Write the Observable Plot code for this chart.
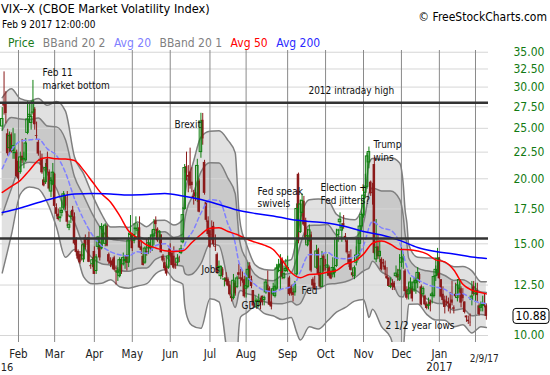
<!DOCTYPE html>
<html><head><meta charset="utf-8">
<script src="https://cdn.jsdelivr.net/npm/d3@7"></script>
<script src="https://cdn.jsdelivr.net/npm/@observablehq/plot@0.6"></script>
<style>
html,body{margin:0;padding:0;background:#fff;}
#wrap{position:relative;width:550px;height:375px;overflow:hidden;font-family:"DejaVu Sans Condensed","DejaVu Sans",sans-serif;font-stretch:condensed;}
#wrap svg{position:absolute;left:0;top:0;}
.t{position:absolute;white-space:nowrap;line-height:1;}
</style></head><body><div id="wrap"></div>
<script>
// ---- data: trading days ----
const dates = [
"2016-01-19","2016-01-20","2016-01-21","2016-01-22","2016-01-25","2016-01-26","2016-01-27","2016-01-28","2016-01-29",
"2016-02-01","2016-02-02","2016-02-03","2016-02-04","2016-02-05","2016-02-08","2016-02-09","2016-02-10","2016-02-11","2016-02-12","2016-02-16","2016-02-17","2016-02-18","2016-02-19","2016-02-22","2016-02-23","2016-02-24","2016-02-25","2016-02-26","2016-02-29",
"2016-03-01","2016-03-02","2016-03-03","2016-03-04","2016-03-07","2016-03-08","2016-03-09","2016-03-10","2016-03-11","2016-03-14","2016-03-15","2016-03-16","2016-03-17","2016-03-18","2016-03-21","2016-03-22","2016-03-23","2016-03-24","2016-03-28","2016-03-29","2016-03-30","2016-03-31",
"2016-04-01","2016-04-04","2016-04-05","2016-04-06","2016-04-07","2016-04-08","2016-04-11","2016-04-12","2016-04-13","2016-04-14","2016-04-15","2016-04-18","2016-04-19","2016-04-20","2016-04-21","2016-04-22","2016-04-25","2016-04-26","2016-04-27","2016-04-28","2016-04-29",
"2016-05-02","2016-05-03","2016-05-04","2016-05-05","2016-05-06","2016-05-09","2016-05-10","2016-05-11","2016-05-12","2016-05-13","2016-05-16","2016-05-17","2016-05-18","2016-05-19","2016-05-20","2016-05-23","2016-05-24","2016-05-25","2016-05-26","2016-05-27","2016-05-31",
"2016-06-01","2016-06-02","2016-06-03","2016-06-06","2016-06-07","2016-06-08","2016-06-09","2016-06-10","2016-06-13","2016-06-14","2016-06-15","2016-06-16","2016-06-17","2016-06-20","2016-06-21","2016-06-22","2016-06-23","2016-06-24","2016-06-27","2016-06-28","2016-06-29","2016-06-30",
"2016-07-01","2016-07-05","2016-07-06","2016-07-07","2016-07-08","2016-07-11","2016-07-12","2016-07-13","2016-07-14","2016-07-15","2016-07-18","2016-07-19","2016-07-20","2016-07-21","2016-07-22","2016-07-25","2016-07-26","2016-07-27","2016-07-28","2016-07-29",
"2016-08-01","2016-08-02","2016-08-03","2016-08-04","2016-08-05","2016-08-08","2016-08-09","2016-08-10","2016-08-11","2016-08-12","2016-08-15","2016-08-16","2016-08-17","2016-08-18","2016-08-19","2016-08-22","2016-08-23","2016-08-24","2016-08-25","2016-08-26","2016-08-29","2016-08-30","2016-08-31",
"2016-09-01","2016-09-02","2016-09-06","2016-09-07","2016-09-08","2016-09-09","2016-09-12","2016-09-13","2016-09-14","2016-09-15","2016-09-16","2016-09-19","2016-09-20","2016-09-21","2016-09-22","2016-09-23","2016-09-26","2016-09-27","2016-09-28","2016-09-29","2016-09-30",
"2016-10-03","2016-10-04","2016-10-05","2016-10-06","2016-10-07","2016-10-10","2016-10-11","2016-10-12","2016-10-13","2016-10-14","2016-10-17","2016-10-18","2016-10-19","2016-10-20","2016-10-21","2016-10-24","2016-10-25","2016-10-26","2016-10-27","2016-10-28","2016-10-31",
"2016-11-01","2016-11-02","2016-11-03","2016-11-04","2016-11-07","2016-11-08","2016-11-09","2016-11-10","2016-11-11","2016-11-14","2016-11-15","2016-11-16","2016-11-17","2016-11-18","2016-11-21","2016-11-22","2016-11-23","2016-11-25","2016-11-28","2016-11-29","2016-11-30",
"2016-12-01","2016-12-02","2016-12-05","2016-12-06","2016-12-07","2016-12-08","2016-12-09","2016-12-12","2016-12-13","2016-12-14","2016-12-15","2016-12-16","2016-12-19","2016-12-20","2016-12-21","2016-12-22","2016-12-23","2016-12-27","2016-12-28","2016-12-29","2016-12-30",
"2017-01-03","2017-01-04","2017-01-05","2017-01-06","2017-01-09","2017-01-10","2017-01-11","2017-01-12","2017-01-13","2017-01-17","2017-01-18","2017-01-19","2017-01-20","2017-01-23","2017-01-24","2017-01-25","2017-01-26","2017-01-27","2017-01-30","2017-01-31",
"2017-02-01","2017-02-02","2017-02-03","2017-02-06","2017-02-07","2017-02-08","2017-02-09"];

const open = [
25.20,27.80,27.80,24.40,22.90,24.30,22.60,22.40,22.50,21.60,
20.60,22.10,21.80,21.70,24.50,26.30,25.60,26.80,27.20,24.20,
23.50,21.80,21.90,19.90,19.70,21.80,20.60,18.90,19.50,20.40,
17.60,17.10,16.80,17.20,17.60,18.40,17.30,16.10,16.90,17.40,
16.90,15.30,14.50,14.30,14.30,14.00,15.40,15.30,15.40,13.60,
13.70,14.50,13.30,14.80,15.10,14.70,15.70,15.00,16.20,14.30,
13.90,13.90,14.10,13.30,13.20,13.00,14.00,13.70,13.90,14.20,
13.80,15.60,15.60,15.20,16.00,15.90,16.10,14.80,14.20,13.80,
14.50,14.70,14.90,14.70,15.50,16.60,16.00,15.30,15.60,14.20,
13.80,13.60,13.50,14.70,14.40,14.20,13.70,13.80,14.10,14.40,
15.10,17.50,21.10,20.30,20.60,19.70,18.50,18.80,18.30,19.80,
22.50,25.90,21.50,18.00,16.60,15.90,15.60,16.20,14.80,14.30,
13.50,13.00,13.40,12.80,12.90,12.80,12.50,11.90,11.80,12.60,
12.40,13.20,12.90,12.90,12.80,12.30,12.40,13.60,12.80,12.20,
11.50,11.60,11.60,11.70,11.90,11.70,12.10,12.50,12.30,11.60,
12.00,11.90,12.30,13.50,13.30,14.00,12.90,13.30,13.40,12.90,
12.40,12.10,12.10,13.10,20.40,15.80,17.20,18.10,16.60,14.90,
15.20,15.60,12.80,12.60,13.50,14.60,13.20,12.40,14.20,13.60,
13.50,13.50,13.20,13.10,13.20,13.60,15.60,16.50,15.90,16.40,
15.50,15.20,14.30,14.00,13.20,13.00,13.80,14.20,15.00,16.20,
17.00,18.80,19.30,21.50,19.70,18.80,21.30,14.00,14.80,14.20,
14.00,13.80,13.60,13.00,12.90,12.40,12.60,12.60,13.00,13.10,
12.80,13.80,14.00,13.30,12.20,12.00,12.30,12.30,12.20,12.60,
12.70,13.10,12.40,12.00,11.90,11.50,11.40,11.60,11.90,11.90,
13.00,13.20,14.10,12.80,12.00,11.70,11.60,11.60,11.50,11.70,
11.30,12.00,11.80,12.30,12.30,12.00,11.60,10.90,10.70,10.60,
11.70,12.40,12.00,12.20,11.40,11.30,11.40,11.50,11.40];

const high = [
27.40,32.09,29.40,24.90,24.60,24.50,25.00,24.40,22.70,21.80,
22.50,23.80,22.50,23.90,28.10,28.00,26.80,30.90,27.40,25.70,
23.70,22.60,22.30,20.10,21.40,22.50,20.80,20.10,21.40,20.50,
17.90,17.50,17.60,18.20,18.90,18.50,18.90,16.60,17.30,17.70,
17.20,15.40,14.60,14.50,14.90,15.00,15.60,15.40,15.80,13.70,
14.10,14.80,14.30,15.50,15.20,16.40,16.00,16.40,16.30,14.40,
14.10,14.00,14.20,13.60,13.50,14.10,14.00,14.40,14.20,14.30,
15.70,17.00,15.70,16.40,16.90,16.40,16.90,15.20,14.30,14.80,
15.30,15.40,15.10,15.90,16.70,16.90,16.10,15.90,15.60,14.30,
14.10,13.70,14.60,15.00,14.50,14.80,13.80,14.30,14.20,14.90,
17.60,21.30,22.50,21.20,22.90,21.00,19.00,19.20,21.80,20.00,
26.72,26.70,21.70,18.10,16.90,16.00,16.60,16.50,15.60,14.40,
13.90,13.60,13.50,12.90,13.20,12.90,12.70,12.00,13.10,12.70,
13.00,13.70,13.40,13.30,13.00,12.90,13.80,13.80,13.00,12.20,
11.90,11.80,12.00,11.80,11.90,11.90,12.80,13.30,12.40,12.20,
12.60,12.50,13.70,14.00,14.30,14.10,13.60,14.00,14.20,13.00,
12.50,12.30,12.70,17.90,20.51,18.20,18.70,18.50,16.80,16.00,
16.30,15.80,12.90,13.00,14.90,14.70,13.60,14.50,14.30,14.00,
14.30,13.60,13.30,14.10,13.60,16.00,16.00,17.20,16.40,17.00,
15.70,15.30,14.50,14.60,13.40,13.60,14.80,15.40,16.90,17.20,
19.30,20.40,22.40,23.01,19.80,19.60,22.00,16.70,15.60,15.20,
14.10,14.00,13.90,13.50,12.90,12.90,12.80,12.70,13.60,13.40,
14.30,14.80,14.40,13.40,12.40,12.60,12.90,12.40,12.90,12.90,
13.50,13.20,12.50,12.40,11.95,11.60,11.80,11.70,12.10,13.00,
13.60,14.70,14.10,12.80,12.40,11.90,11.90,11.80,12.10,12.70,
11.40,12.60,12.50,12.80,12.40,12.30,11.60,10.90,10.90,11.00,
12.70,12.70,12.60,12.60,11.50,11.60,11.90,12.00,11.50];

const low = [
24.70,26.50,25.50,22.10,22.30,22.40,21.80,21.80,20.10,19.80,
20.40,21.40,20.90,21.50,24.30,25.60,24.80,26.50,24.80,23.70,
22.10,21.20,20.40,19.30,19.50,20.50,19.00,18.40,19.40,17.60,
16.90,16.60,16.50,16.90,17.40,17.40,16.20,15.90,16.40,16.60,
14.90,14.20,13.90,13.70,13.90,13.80,14.60,14.90,13.80,13.40,
13.50,13.10,13.10,14.60,13.90,14.60,15.20,14.80,14.80,13.70,
13.50,13.40,13.30,12.50,12.70,12.90,13.10,13.60,13.40,13.30,
13.50,15.40,14.50,15.00,15.60,15.40,14.70,14.30,13.60,13.70,
14.20,14.30,14.40,14.50,14.90,15.80,15.10,15.00,14.40,13.80,
13.30,13.00,13.40,14.10,13.60,13.40,13.40,13.60,13.80,14.30,
15.00,17.40,19.80,18.80,19.10,18.80,17.80,18.10,18.00,17.20,
21.90,23.20,18.60,16.50,15.50,14.70,15.20,14.80,14.50,13.10,
13.30,12.80,12.90,12.40,12.50,12.40,11.90,11.60,11.70,11.90,
12.30,12.80,12.40,12.60,11.80,11.80,12.30,12.70,12.30,11.30,
11.30,11.30,11.30,11.20,11.40,11.40,12.00,12.10,11.40,11.20,
11.90,11.80,12.20,13.20,12.20,12.80,12.80,13.20,13.20,11.90,
11.90,11.60,11.90,13.00,15.00,15.70,16.90,16.20,15.00,14.80,
15.10,13.20,12.30,12.20,13.40,13.00,12.30,12.40,13.20,13.30,
13.00,12.90,12.80,12.90,12.90,13.50,15.10,16.10,15.10,16.00,
15.10,14.30,13.50,13.30,12.90,12.80,13.60,13.90,14.20,15.90,
16.80,18.30,19.10,20.90,18.50,17.80,14.30,13.80,14.00,13.80,
13.30,13.50,13.00,12.80,12.40,12.30,12.20,12.20,12.90,12.70,
12.70,13.50,13.40,12.10,11.70,11.70,12.00,11.60,12.10,12.00,
12.30,12.60,11.40,11.80,11.40,11.20,11.20,11.10,11.50,11.80,
12.70,13.00,12.80,11.80,11.50,11.00,11.40,11.10,11.00,11.40,
11.00,11.80,11.60,12.10,11.30,11.60,11.00,10.60,10.50,10.40,
11.40,11.90,11.60,11.60,10.90,11.10,11.10,11.30,10.70];

const close = [
26.05,27.59,26.69,22.34,24.15,22.50,23.11,22.42,20.20,19.98,
21.98,21.65,21.84,23.38,26.00,26.54,26.29,28.14,25.40,24.11,
22.31,21.64,20.53,19.38,20.98,20.72,19.11,19.81,20.55,17.70,
17.09,16.70,16.86,17.35,18.67,17.72,16.50,16.29,16.92,16.84,
14.99,14.44,14.02,13.79,14.17,14.94,14.74,15.24,13.82,13.56,
13.95,13.10,14.12,15.42,14.09,16.16,15.36,16.26,14.85,13.84,
13.72,13.62,13.35,13.24,13.28,13.95,13.22,14.08,13.96,13.77,
15.22,15.70,14.68,15.60,16.05,15.91,14.72,14.57,13.63,14.69,
14.41,15.04,14.68,15.57,15.95,16.33,15.20,15.82,14.42,13.90,
13.43,13.12,14.19,14.20,13.63,13.47,13.65,14.05,14.08,14.64,
17.03,20.97,20.50,20.14,19.37,19.41,18.37,18.48,21.17,17.25,
25.76,23.85,18.75,16.64,15.63,14.77,15.58,14.96,14.76,13.20,
13.54,13.55,13.04,12.82,12.67,12.44,11.97,11.77,12.74,12.02,
12.87,13.05,12.83,12.72,11.87,12.44,13.37,12.86,12.42,11.39,
11.50,11.66,11.66,11.68,11.55,11.81,12.64,12.19,11.43,11.34,
12.27,12.38,13.45,13.63,13.65,12.94,13.12,13.42,13.48,11.98,
12.02,11.94,12.51,17.50,15.16,17.85,18.14,16.30,15.37,15.53,
15.92,13.30,12.45,12.29,14.50,13.10,12.39,14.02,13.29,13.57,
13.63,12.99,12.84,13.48,13.38,15.36,15.91,16.69,16.12,16.21,
15.28,14.41,13.75,13.34,13.02,13.46,14.24,15.36,16.19,17.06,
18.56,19.32,22.08,22.51,18.71,18.74,14.38,14.74,14.17,14.48,
13.37,13.72,13.35,12.85,12.42,12.41,12.43,12.34,13.15,12.90,
13.33,14.07,14.12,12.14,11.79,12.22,12.64,11.75,12.64,12.72,
13.19,12.79,11.44,12.29,11.45,11.27,11.43,11.44,11.99,12.95,
13.37,14.04,12.85,11.85,11.67,11.32,11.56,11.49,11.26,11.54,
11.23,11.87,12.48,12.78,11.54,11.77,11.07,10.81,10.63,10.58,
11.88,11.99,12.14,11.93,10.97,11.37,11.45,11.45,10.88];

// ---- indicator readings (by trading-day index) ----
const bandIdx  = [0,5,10,15,20,25,30,35,40,45,50,55,60,65,70,75,80,85,90,95,100,101,102,103,105,110,115,120,125,129,130,131,132,135,140,145,150,155,160,163,165,170,175,180,185,190,195,200,202,203,205,210,215,220,222,223,224,225,230,235,240,245,250,255,260,265,268];
const bbUpper2 = [28.63,29.77,28.50,28.22,28.53,27.67,28.16,26.97,22.02,20.46,18.58,17.11,16.16,16.17,16.13,16.52,16.18,16.63,16.65,16.30,16.70,18.38,19.45,20.18,21.06,24.04,24.69,24.72,23.70,22.42,19.94,17.34,16.22,15.04,13.67,13.39,13.35,13.85,13.99,15.38,16.68,18.23,18.29,18.22,17.09,16.76,16.68,18.04,20.16,21.39,21.87,21.80,21.95,21.45,19.51,17.45,16.47,14.96,14.13,14.09,14.07,13.82,13.55,13.57,13.31,12.69,12.68];
const bbUpper1 = [24.77,26.22,26.05,25.98,26.18,25.25,25.16,23.76,20.17,18.59,17.08,15.98,15.32,15.23,15.18,15.50,15.28,15.76,15.83,15.42,15.66,16.65,17.33,17.81,18.41,20.61,21.46,21.44,20.03,18.72,17.16,15.59,14.88,14.04,13.09,12.80,12.74,13.07,13.20,14.07,14.96,16.27,16.29,16.33,15.59,15.40,15.42,16.46,17.91,18.75,19.21,18.95,18.94,18.26,16.96,15.67,15.01,14.09,13.47,13.31,13.23,13.04,12.76,12.80,12.51,12.12,12.10];
const avg20    = [20.91,22.67,23.60,23.75,23.83,22.83,22.16,20.55,18.32,16.72,15.58,14.86,14.48,14.29,14.23,14.49,14.38,14.89,15.01,14.55,14.62,14.92,15.21,15.44,15.76,17.18,18.23,18.16,16.36,15.02,14.38,13.84,13.54,13.04,12.52,12.21,12.13,12.29,12.41,12.76,13.24,14.31,14.29,14.44,14.09,14.04,14.16,14.88,15.66,16.11,16.55,16.10,15.93,15.07,14.41,13.89,13.55,13.22,12.81,12.54,12.39,12.26,11.97,12.03,11.71,11.55,11.52];
const bbLower1 = [17.05,19.12,21.14,21.52,21.48,20.41,19.16,17.34,16.47,14.85,14.07,13.73,13.64,13.35,13.28,13.47,13.48,14.02,14.19,13.67,13.58,13.19,13.09,13.07,13.11,13.75,15.00,14.88,12.69,11.32,11.60,12.09,12.20,12.04,11.94,11.62,11.52,11.51,11.62,11.45,11.52,12.35,12.29,12.55,12.59,12.68,12.90,13.30,13.41,13.47,13.89,13.25,12.92,11.88,11.86,12.11,12.09,12.35,12.15,11.76,11.55,11.48,11.18,11.26,10.91,10.97,10.94];
const bbLower2 = [13.19,15.57,18.69,19.29,19.13,17.99,16.16,14.13,14.62,12.98,12.57,12.60,12.80,12.41,12.33,12.45,12.58,13.15,13.37,12.79,12.54,11.46,10.97,10.70,10.46,10.32,11.77,11.60,9.02,7.62,8.82,10.34,10.86,11.04,11.36,11.03,10.91,10.73,10.83,10.14,9.80,10.39,10.29,10.66,11.09,11.32,11.64,11.72,11.16,10.83,11.23,10.40,9.91,8.69,9.31,10.33,10.63,11.48,11.49,10.98,10.71,10.70,10.39,10.49,10.11,10.40,10.36];

const avg50Idx = [0,5,10,15,20,25,30,35,40,45,50,55,60,65,70,75,80,85,90,95,100,105,110,115,120,125,130,135,140,145,150,155,160,165,170,175,180,185,190,195,200,205,210,215,220,225,230,235,240,245,250,255,260,265,268];
const avg50    = [18.83,19.33,19.86,20.75,21.69,21.98,21.84,21.83,21.68,20.78,19.71,18.71,18.03,16.99,15.87,15.37,14.92,14.73,14.55,14.50,14.54,15.09,15.63,16.07,16.11,15.84,15.63,15.33,15.11,14.91,14.63,13.95,13.21,12.91,13.10,13.12,13.23,13.33,13.71,13.90,14.33,15.04,15.18,14.97,14.63,14.61,14.53,14.35,13.97,13.85,13.36,12.54,12.22,12.09,12.02];

const avg200Idx = [0,10,20,30,40,50,60,70,80,90,100,110,120,130,140,150,160,170,180,190,200,210,220,230,240,250,260,268];
const avg200    = [17.23,17.58,18.01,18.41,18.70,18.74,18.70,18.62,18.66,18.74,18.54,18.25,17.85,17.42,17.16,16.97,16.71,16.56,16.45,16.20,15.84,15.60,15.23,14.76,14.50,14.34,14.15,14.06];

const refLevels = [28.0, 15.35];          // "2012 intraday high" and lower reference line
const yTicks = [10,12.5,15,17.5,20,22.5,25,27.5,30,32.5,35];
const monthLabels = ["Feb","Mar","Apr","May","Jun","Jul","Aug","Sep","Oct","Nov","Dec","Jan"];
const yearLabels = ["16","2017"];

const annText = ["Feb 11","market bottom","2012 intraday high","Brexit","Fed speak","swivels","Election +","Fed jitters?","Trump","wins","Jobs","GDP","Fed","2 1/2 year lows"];
const annIdx  = [22.3,22.3,169.5,95.4,141.3,141.3,176.2,176.2,205.5,205.5,110.3,132.5,165.7,212.2];
const annVal  = [31.95,30.23,29.57,25.44,18.91,17.89,19.25,18.17,23.23,21.98,13.39,11.39,12.20,10.45];

// ---- build tables ----
const parse = d3.utcParse("%Y-%m-%d");
const D = dates.map(parse);
const candles = dates.map((d,i)=>({i, o:open[i], h:high[i], l:low[i], c:close[i], up: close[i] >= open[i]}));
const bands = bandIdx.map((i,k)=>({i, u2:bbUpper2[k], u1:bbUpper1[k], m:avg20[k], l1:bbLower1[k], l2:bbLower2[k]}));
const a50 = avg50Idx.map((i,k)=>({i, v:avg50[k]}));
const a200 = avg200Idx.map((i,k)=>({i, v:avg200[k]}));
const monthIdx = [];
for (let i=1;i<D.length;i++) if (D[i].getUTCMonth() !== D[i-1].getUTCMonth()) monthIdx.push(i);
const labelMap = new Map(monthIdx.slice(0, monthLabels.length).map((i,k)=>[i, monthLabels[k]]));
const janIdx = monthIdx.find(i => D[i].getUTCFullYear() === 2017);
const ann = annText.map((t,k)=>({t, i:annIdx[k], v:annVal[k]}));
const last = candles.length - 1;

const GREEN = "#0f7f0f", RED = "#8b1a1a";
const curve = "monotone-x";
const FONT = '"DejaVu Sans Condensed","DejaVu Sans",sans-serif';

const chart = Plot.plot({
  width: 550, height: 375,
  marginLeft: 0, marginRight: 62, marginTop: 50, marginBottom: 33,
  style: {fontFamily: FONT, fontSize: "11px", background: "transparent", overflow: "visible"},
  x: {type: "linear", domain: [-0.965, 269.2]},
  y: {type: "log", domain: [9.695, 35.27]},
  marks: [
    Plot.areaY(bands, {x: "i", y1: "l2", y2: "u2", fill: "#e1e1e1", curve, clip: true}),
    Plot.areaY(bands, {x: "i", y1: "l1", y2: "u1", fill: "#c9c9c9", curve, clip: true}),
    Plot.ruleY(yTicks, {stroke: "#d6d6d6", strokeWidth: 1}),
    Plot.ruleX(monthIdx, {stroke: "#8a8a8a", strokeWidth: 1}),
    Plot.lineY(bands, {x: "i", y: "u2", stroke: "#7f7f7f", strokeWidth: 1.5, curve, clip: true}),
    Plot.lineY(bands, {x: "i", y: "u1", stroke: "#7f7f7f", strokeWidth: 1.5, curve, clip: true}),
    Plot.lineY(bands, {x: "i", y: "l1", stroke: "#7f7f7f", strokeWidth: 1.5, curve, clip: true}),
    Plot.lineY(bands, {x: "i", y: "l2", stroke: "#7f7f7f", strokeWidth: 1.5, curve, clip: true}),
    Plot.ruleX(candles, {x: "i", y1: "l", y2: "h", stroke: d => d.up ? GREEN : RED, strokeWidth: 1, clip: true}),
    Plot.rect(candles.filter(d => !d.up), {x1: d => d.i - 0.7, x2: d => d.i + 0.7, y1: "o", y2: "c", fill: RED, clip: true}),
    Plot.rect(candles.filter(d => d.up), {x1: d => d.i - 0.7, x2: d => d.i + 0.7, y1: "o", y2: "c", fill: "none", stroke: GREEN, strokeWidth: 1, clip: true}),
    Plot.lineY(bands, {x: "i", y: "m", stroke: "#8080ff", strokeWidth: 1.5, strokeDasharray: "4,3", curve}),
    Plot.lineY(a50, {x: "i", y: "v", stroke: "#ff0000", strokeWidth: 1.5, curve}),
    Plot.lineY(a200, {x: "i", y: "v", stroke: "#0000ff", strokeWidth: 1.5, curve}),
    Plot.ruleY(refLevels, {stroke: "#333333", strokeWidth: 2.5}),
    Plot.text(ann, {x: "i", y: "v", text: "t", textAnchor: "start", fontSize: 10, fill: "#111"}),
    Plot.axisY({anchor: "right", ticks: yTicks, tickFormat: d3.format(".2f"), tickSize: 0, tickPadding: 25, fill: "#127a12", fontSize: 12, label: null}),
    Plot.axisX({ticks: [...labelMap.keys()], tickFormat: d => labelMap.get(d), tickSize: 0, tickPadding: 7, fill: "#222", fontSize: 11.5, label: null}),
    Plot.text([yearLabels[0]], {x: () => 0, text: d => d, frameAnchor: "bottom", dy: 28, textAnchor: "start", dx: -1.5, fontSize: 11, fill: "#222"}),
    Plot.text([yearLabels[1]], {x: () => janIdx, text: d => d, frameAnchor: "bottom", dy: 28, fontSize: 11.5, fill: "#222"}),
    Plot.text([D[last]], {x: () => last, text: d => d3.utcFormat("%-m/%-d/%y")(d), frameAnchor: "bottom", dy: 19, dx: -2, fontSize: 10, fill: "#222"})
  ]
});

const wrap = document.getElementById("wrap");
wrap.appendChild(chart);

// current price box on the right axis
const ys = chart.scale("y");
const yp = ys.apply(close[last]);
const svg = d3.select(chart);
const g = svg.append("g");
g.append("rect").attr("x", 513).attr("y", yp - 7.5).attr("width", 36).attr("height", 15).attr("rx", 3)
  .attr("fill", "#fff").attr("stroke", "#000").attr("stroke-width", 1);
g.append("text").attr("x", 531).attr("y", yp).attr("dy", "0.36em").attr("text-anchor", "middle")
  .attr("font-size", 12).attr("fill", "#000").attr("font-family", FONT).text(d3.format(".2f")(close[last]));

// header
function addText(txt, css) {
  const el = document.createElement("div");
  el.className = "t"; el.textContent = txt;
  Object.assign(el.style, css);
  wrap.appendChild(el);
  return el;
}
addText("VIX--X (CBOE Market Volatility Index)", {left: "1px", top: "3px", fontSize: "12.7px", color: "#000"});
addText("Feb 9 2017 12:00:00", {left: "2px", top: "20px", fontSize: "10px", color: "#000"});
addText("\u00A9 FreeStockCharts.com", {right: "3px", top: "11px", fontSize: "12px", color: "#000"});
const legend = [["Price","#1a7a1a"],["BBand 20 2","#808080"],["Avg 20","#8080ff"],["BBand 20 1","#808080"],["Avg 50","#ff0000"],["Avg 200","#2a2aff"]];
const lg = document.createElement("div");
Object.assign(lg.style, {position: "absolute", left: "8px", top: "37px", display: "flex", gap: "8.5px", fontSize: "12px", lineHeight: "1", whiteSpace: "nowrap"});
legend.forEach(([t,c]) => { const s = document.createElement("span"); s.textContent = t; s.style.color = c; lg.appendChild(s); });
wrap.appendChild(lg);
</script></body></html>
